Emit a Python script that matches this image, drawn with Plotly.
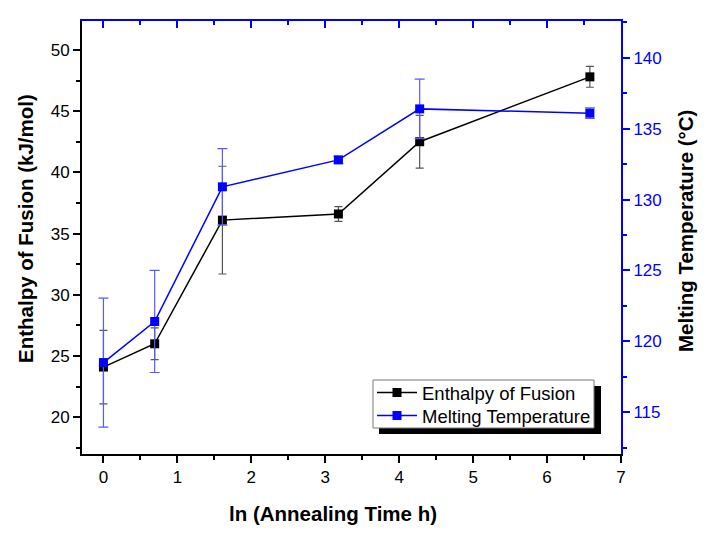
import plotly.graph_objects as go

# data: x = ln(annealing time in hours)
x_vals = [0.0, 0.693, 1.609, 3.178, 4.277, 6.579]
enthalpy = [24.1, 26.0, 36.1, 36.6, 42.5, 47.8]
enthalpy_err = [3.0, 1.3, 4.4, 0.6, 2.15, 0.85]
melt_temp = [118.5, 121.4, 130.9, 132.8, 136.4, 136.1]
melt_err = [4.55, 3.6, 2.7, 0.25, 2.1, 0.37]

x_ticks = [0, 1, 2, 3, 4, 5, 6, 7]
y1_ticks = [20, 25, 30, 35, 40, 45, 50]
y2_ticks = [115, 120, 125, 130, 135, 140]

FONT = "Liberation Sans, Arial, sans-serif"
BLUE = "#0000ff"

fig = go.Figure()
fig.add_trace(go.Scatter(
    x=x_vals, y=enthalpy, name="Enthalpy of Fusion", mode="lines+markers",
    line=dict(color="black", width=1.5),
    marker=dict(symbol="square", size=9, color="black"),
    error_y=dict(type="data", array=enthalpy_err, color="#555555", thickness=1.2, width=4),
    yaxis="y", xaxis="x", legend="legend"))
fig.add_trace(go.Scatter(
    x=x_vals, y=melt_temp, name="Melting Temperature", mode="lines+markers",
    line=dict(color=BLUE, width=1.5),
    marker=dict(symbol="square", size=9, color=BLUE),
    error_y=dict(type="data", array=melt_err, color="#5a5aff", thickness=1.2, width=5),
    yaxis="y2", xaxis="x", legend="legend2"))

# page has an 8px body margin
OFF = 8
W, H = 702, 526
L, R, T, B = 74, 89, 13, 80
pw, ph = W - L - R, H - T - B

def px2paper(px, py):
    # px, py are window coordinates
    return (px - OFF - L) / pw, (H - B - (py - OFF)) / ph

fx0, fy0 = px2paper(373, 380)
fx1, fy1 = px2paper(594, 428)
sx0, sy0 = px2paper(379, 386)
sx1, sy1 = px2paper(601, 434)
l1x, l1y = px2paper(372, 393)
l2x, l2y = px2paper(372, 416)

xtx, xty = px2paper(333, 513)
ltx, lty = px2paper(25, 229)
rtx, rty = px2paper(685, 231)

leg_common = dict(xanchor="left", yanchor="middle", bgcolor="rgba(0,0,0,0)", borderwidth=0,
                  font=dict(family=FONT, size=18.5, color="black"), itemwidth=40)

fig.update_layout(
    width=W, height=H,
    margin=dict(l=L, r=R, t=T, b=B),
    paper_bgcolor="white", plot_bgcolor="white",
    font=dict(family=FONT, size=17, color="black"),
    showlegend=True,
    legend=dict(x=l1x, y=l1y, **leg_common),
    legend2=dict(x=l2x, y=l2y, **leg_common),
    xaxis=dict(range=[-0.29, 7], tickvals=x_ticks, ticks="outside", ticklen=7, tickwidth=1.5,
               tickcolor="black", linecolor="black", linewidth=2, showline=True,
               showgrid=False, zeroline=False,
               minor=dict(ticks="outside", ticklen=4, tickwidth=1.5, dtick=0.5, tickcolor="black", showgrid=False),
               tickfont=dict(size=17, color="black")),
    xaxis2=dict(range=[-0.29, 7], overlaying="x", side="top", tickvals=x_ticks, ticks="inside",
                ticklen=7, tickwidth=1.5, tickcolor=BLUE, linecolor=BLUE, linewidth=2, showline=True,
                showticklabels=False, showgrid=False, zeroline=False,
                minor=dict(ticks="inside", ticklen=4, tickwidth=1.5, dtick=0.5, tickcolor=BLUE, showgrid=False)),
    yaxis=dict(range=[17.0, 52.36], tickvals=y1_ticks, ticks="outside", ticklen=7, tickwidth=1.5,
               tickcolor="black", linecolor="black", linewidth=2, showline=True,
               showgrid=False, zeroline=False,
               minor=dict(ticks="outside", ticklen=4, tickwidth=1.5, dtick=2.5, tickcolor="black", showgrid=False),
               tickfont=dict(size=17, color="black")),
    yaxis2=dict(range=[112.05, 142.6], overlaying="y", side="right", tickvals=y2_ticks, ticks="outside",
                ticklen=7, tickwidth=1.5, tickcolor=BLUE, linecolor=BLUE, linewidth=2, showline=True,
                showgrid=False, zeroline=False,
                minor=dict(ticks="outside", ticklen=4, tickwidth=1.5, dtick=2.5, tickcolor=BLUE, showgrid=False),
                tickfont=dict(size=17, color=BLUE)),
    shapes=[
        dict(type="rect", xref="paper", yref="paper", x0=sx0, x1=sx1, y0=sy1, y1=sy0,
             fillcolor="black", line=dict(width=0), layer="above"),
        dict(type="rect", xref="paper", yref="paper", x0=fx0, x1=fx1, y0=fy1, y1=fy0,
             fillcolor="white", line=dict(width=1, color="#777777"), layer="above"),
    ],
    annotations=[
        dict(text="<b>ln (Annealing Time h)</b>", x=xtx, y=xty, xref="paper", yref="paper",
             showarrow=False, xanchor="center", yanchor="middle", font=dict(size=20.5, color="black")),
        dict(text="<b>Enthalpy of Fusion (kJ/mol)</b>", x=ltx, y=lty, xref="paper", yref="paper",
             showarrow=False, xanchor="center", yanchor="middle", textangle=-90,
             font=dict(size=20.5, color="black")),
        dict(text="<b>Melting Temperature (°C)</b>", x=rtx, y=rty, xref="paper", yref="paper",
             showarrow=False, xanchor="center", yanchor="middle", textangle=-90,
             font=dict(size=20.5, color="black")),
    ],
)

fig.add_trace(go.Scatter(x=[None], y=[None], xaxis="x2", showlegend=False, hoverinfo="skip"))

fig.write_html("out.html")
